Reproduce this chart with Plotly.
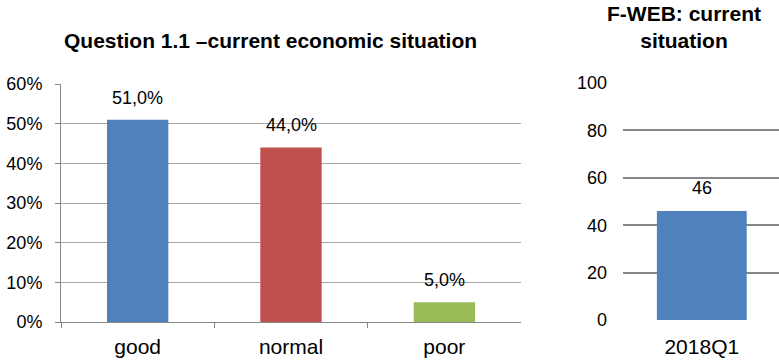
import plotly.graph_objects as go

# Left chart data
categories = ["good", "normal", "poor"]
shares = [51.0, 44.0, 5.0]
bar_colors = ["#4F81BD", "#C0504D", "#9BBB59"]
left_ticks = [0, 10, 20, 30, 40, 50, 60]
left_ticktext = ["0%", "10%", "20%", "30%", "40%", "50%", "60%"]

# Right chart data
quarters = ["2018Q1"]
fweb = [46]
right_ticks = [0, 20, 40, 60, 80, 100]

W, H = 779, 361
FONT = "Liberation Sans, Arial, sans-serif"

fig = go.Figure()
fig.add_trace(go.Bar(x=categories, y=shares, marker=dict(color=bar_colors, line=dict(width=0)),
                     width=0.4, xaxis="x", yaxis="y", hoverinfo="skip"))
fig.add_trace(go.Bar(x=quarters, y=fweb, marker=dict(color="#4F81BD", line=dict(width=0)),
                     width=0.57, xaxis="x2", yaxis="y2", hoverinfo="skip"))

annotations = []
for c, v in zip(categories, shares):
    annotations.append(dict(x=c, y=v, xref="x", yref="y", text=f"{v:.1f}%".replace(".", ","),
                            showarrow=False, yshift=22, font=dict(size=18, color="#000", family=FONT)))
for q, v in zip(quarters, fweb):
    annotations.append(dict(x=q, y=v, xref="x2", yref="y2", text=str(v),
                            showarrow=False, yshift=23, font=dict(size=18, color="#000", family=FONT)))
annotations.append(dict(x=270 / W, y=1 - 40 / H, xref="paper", yref="paper",
                        text="<b>Question 1.1 –current economic situation</b>", showarrow=False,
                        xanchor="center", yanchor="middle", font=dict(size=21, color="#000", family=FONT)))
annotations.append(dict(x=684 / W, y=1 - 27 / H, xref="paper", yref="paper",
                        text="<b>F-WEB: current<br>situation</b>", showarrow=False,
                        xanchor="center", yanchor="middle", font=dict(size=21, color="#000", family=FONT)))

fig.update_layout(
    template="none",
    width=W, height=H, margin=dict(l=0, r=0, t=0, b=0, pad=0, autoexpand=False),
    paper_bgcolor="white", plot_bgcolor="white", showlegend=False,
    font=dict(family=FONT, color="#000"),
    bargap=0.6,
    annotations=annotations,
    xaxis=dict(domain=[61 / W, 521 / W], anchor="y", showline=True, linecolor="#868686", linewidth=1,
               ticks="outside", tickson="boundaries", ticklen=5, tickcolor="#868686",
               tickfont=dict(size=21, family=FONT, color="#000"), showgrid=False, automargin=False,
               range=[-0.5, 2.5], ticklabelstandoff=6, fixedrange=True),
    yaxis=dict(domain=[(H - 322) / H, (H - 84) / H], anchor="x", range=[0, 60],
               tickvals=left_ticks, ticktext=left_ticktext, showline=True, linecolor="#868686",
               linewidth=1, ticks="outside", ticklen=5, tickcolor="#868686", automargin=False,
               showgrid=True, gridcolor="#A6A6A6", gridwidth=1, zeroline=False,
               tickfont=dict(size=18, family=FONT, color="#000"), ticklabelstandoff=9, fixedrange=True),
    xaxis2=dict(domain=[623 / W, 1.0], anchor="y2", showline=False, ticks="", automargin=False,
                tickfont=dict(size=21, family=FONT, color="#000"), showgrid=False,
                range=[-0.5, 0.49], ticklabelstandoff=12, fixedrange=True),
    yaxis2=dict(domain=[(H - 320) / H, (H - 83) / H], anchor="x2", range=[0, 100],
                tickvals=right_ticks, showline=False, ticks="", automargin=False,
                showgrid=True, gridcolor="#868686", gridwidth=2, zeroline=False,
                tickfont=dict(size=18, family=FONT, color="#000"), ticklabelstandoff=15, fixedrange=True),
)

fig.write_html("out.html")
